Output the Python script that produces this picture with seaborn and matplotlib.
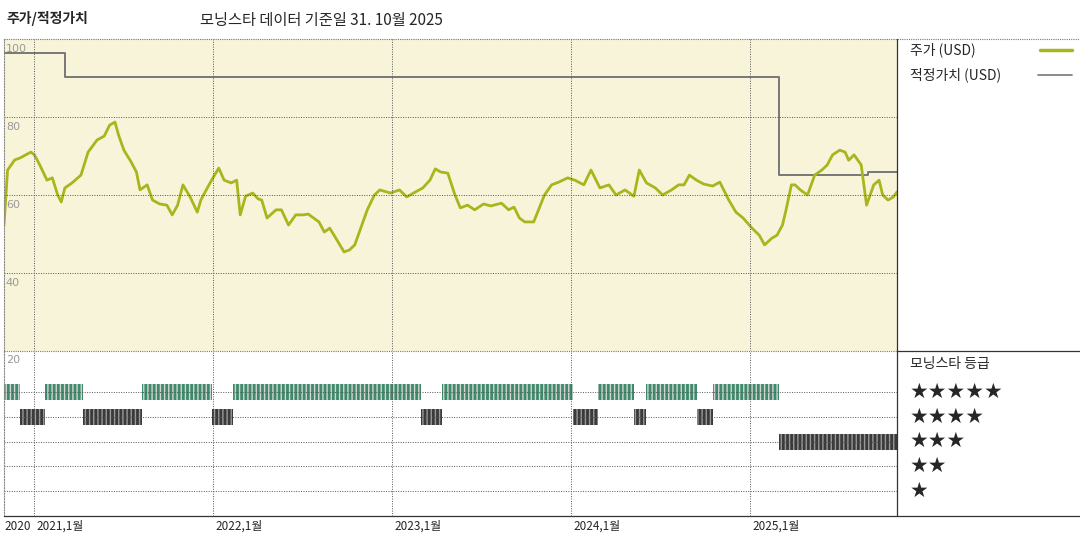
import numpy as np
import pandas as pd
import matplotlib
matplotlib.use("Agg")
import matplotlib.pyplot as plt
import seaborn as sns
from matplotlib.lines import Line2D

sns.set_style("white")
plt.rcParams['font.family'] = ['Noto Sans CJK KR', 'DejaVu Sans']

# price (decimal year, USD)
price_t = [2020.83, 2020.85, 2020.89, 2020.92, 2020.98, 2021.00, 2021.03, 2021.07, 2021.10, 2021.13, 2021.15,
           2021.17, 2021.21, 2021.26, 2021.30, 2021.35, 2021.39, 2021.42, 2021.45, 2021.47, 2021.50, 2021.54,
           2021.57, 2021.59, 2021.63, 2021.66, 2021.70, 2021.74, 2021.77, 2021.80, 2021.83, 2021.87, 2021.91,
           2021.93, 2021.96, 2021.99, 2022.03, 2022.06, 2022.10, 2022.13, 2022.15, 2022.18, 2022.22, 2022.25,
           2022.27, 2022.30, 2022.35, 2022.38, 2022.42, 2022.46, 2022.50, 2022.53, 2022.59, 2022.62, 2022.65,
           2022.69, 2022.73, 2022.76, 2022.79, 2022.83, 2022.86, 2022.90, 2022.93, 2022.99, 2023.04, 2023.08,
           2023.13, 2023.17, 2023.21, 2023.24, 2023.27, 2023.31, 2023.35, 2023.38, 2023.42, 2023.46, 2023.51,
           2023.55, 2023.61, 2023.65, 2023.68, 2023.71, 2023.74, 2023.79, 2023.85, 2023.89, 2023.93, 2023.98,
           2024.02, 2024.07, 2024.11, 2024.16, 2024.21, 2024.25, 2024.30, 2024.35, 2024.38, 2024.42, 2024.47,
           2024.51, 2024.56, 2024.60, 2024.63, 2024.66, 2024.70, 2024.74, 2024.79, 2024.83, 2024.88, 2024.92,
           2024.96, 2025.01, 2025.05, 2025.08, 2025.12, 2025.15, 2025.18, 2025.20, 2025.23, 2025.25, 2025.28,
           2025.32, 2025.36, 2025.40, 2025.43, 2025.46, 2025.50, 2025.53, 2025.55, 2025.58, 2025.62, 2025.65,
           2025.69, 2025.72, 2025.74, 2025.77, 2025.80, 2025.82]
price_v = [52.3, 66.4, 69.0, 69.5, 71.0, 70.3, 67.7, 63.8, 64.4, 60.0, 58.2,
           61.8, 63.1, 65.1, 71.0, 74.1, 75.1, 77.9, 78.7, 75.4, 71.5, 68.5,
           65.9, 61.3, 62.6, 58.7, 57.7, 57.4, 54.9, 57.4, 62.6, 59.5, 55.6,
           58.7, 61.3, 63.8, 66.9, 63.8, 63.1, 63.8, 54.9, 59.7, 60.5, 59.0,
           58.7, 54.1, 56.2, 56.2, 52.3, 54.9, 54.9, 55.1, 53.1, 50.5, 51.5,
           48.5, 45.4, 45.9, 47.2, 52.3, 56.2, 60.0, 61.3, 60.5, 61.3, 59.5,
           60.8, 61.8, 63.8, 66.7, 65.9, 65.6, 60.0, 56.7, 57.4, 56.2, 57.7,
           57.2, 57.9, 56.2, 56.9, 54.1, 53.1, 53.1, 60.0, 62.6, 63.3, 64.4,
           63.8, 62.6, 66.4, 61.8, 62.6, 60.0, 61.3, 59.7, 66.4, 63.1, 61.8,
           60.0, 61.3, 62.6, 62.6, 65.1, 63.8, 62.8, 62.3, 63.3, 58.7, 55.6,
           54.1, 51.5, 49.7, 47.2, 48.9, 49.7, 52.3, 56.2, 62.6, 62.6, 61.3,
           60.0, 65.1, 66.4, 67.7, 70.3, 71.5, 71.0, 68.9, 70.3, 67.7, 57.4,
           62.6, 63.8, 60.0, 58.7, 59.5, 60.8]

# fair value steps
fv_t = [2020.83, 2021.17, 2025.16, 2025.66, 2025.82]
fv_v = [96.4, 90.3, 65.1, 65.9, 65.9]

# star ratings (start, end, stars)
rating_start = [2020.83, 2020.92, 2021.06, 2021.27, 2021.60, 2021.99, 2022.11, 2023.16, 2023.28, 2024.01, 2024.15, 2024.35, 2024.42, 2024.70, 2024.79, 2025.16]
rating_end   = [2020.92, 2021.06, 2021.27, 2021.60, 2021.99, 2022.11, 2023.16, 2023.28, 2024.01, 2024.15, 2024.35, 2024.42, 2024.70, 2024.79, 2025.16, 2025.82]
rating_stars = [5, 4, 5, 4, 5, 4, 5, 4, 5, 4, 5, 4, 5, 4, 5, 3]

years = [2021, 2022, 2023, 2024, 2025]
year_labels = ["2021,1월", "2022,1월", "2023,1월", "2024,1월", "2025,1월"]

n = min(len(price_t), len(price_v))
price_df = pd.DataFrame({"t": price_t[:n], "v": price_v[:n]})
fv_df = pd.DataFrame({"t": fv_t, "v": fv_v})

W, H = 1080, 540
fig = plt.figure(figsize=(10.8, 5.4), dpi=100)
x0, x1 = 4, 897
ax = fig.add_axes([x0 / W, 1 - 351 / H, (x1 - x0) / W, 312 / H])
ax2 = fig.add_axes([x0 / W, 1 - 516 / H, (x1 - x0) / W, 165 / H])

xmin, xmax = 2020.83, 2025.82
grid_kw = dict(color="#555555", lw=0.7, ls=(0, (1, 1.5)))

ax.set_facecolor("#f8f4d9")
sns.lineplot(data=fv_df, x="t", y="v", drawstyle="steps-post", color="#777777", lw=1.4, ax=ax)
sns.lineplot(data=price_df, x="t", y="v", color="#a9b51c", lw=2.0, ax=ax)
ax.set_xlim(xmin, xmax)
ax.set_ylim(20, 100)
ax.set_xlabel(""); ax.set_ylabel("")
for v in [40, 60, 80]:
    ax.axhline(v, **grid_kw)
for y in years:
    ax.axvline(y, **grid_kw)
    ax2.axvline(y, **grid_kw)
for v in [100, 80, 60, 40]:
    ax.text(xmin + 0.01, v - 1.2, str(v), color="#999999", fontsize=8, va="top", ha="left",
            family="DejaVu Sans")
ax.set_xticks([]); ax.set_yticks([])
for s in ax.spines.values():
    s.set_visible(False)
ax.spines["left"].set_visible(True); ax.spines["left"].set_color("#888888")
ax.spines["left"].set_linestyle((0, (1, 1.5)))

# ratings
for r in [1, 2, 3, 4, 5]:
    ax2.axhline(r, **grid_kw)
for s_, e_, r in zip(rating_start, rating_end, rating_stars):
    col = "#3f8a6c" if r == 5 else "#3a3a3a"
    ax2.broken_barh([(s_, e_ - s_)], (r - 0.33, 0.66), facecolors=col,
                    edgecolor="#cfd8d2" if r == 5 else "#9a9a9a", hatch="||||", lw=0)
ax2.set_xlim(xmin, xmax)
ax2.set_ylim(0, 6.66)
ax2.set_xticks([]); ax2.set_yticks([])
for s in ax2.spines.values():
    s.set_visible(False)
ax2.spines["left"].set_visible(True); ax2.spines["left"].set_color("#888888")
ax2.spines["left"].set_linestyle((0, (1, 1.5)))
ax2.text(xmin + 0.01, 6.5, "20", color="#999999", fontsize=8, va="top", ha="left", family="DejaVu Sans")

# x labels
ax2.text(xmin, -0.15, "2020", fontsize=8.5, va="top", ha="left")
for y, lab in zip(years, year_labels):
    ax2.text(y + 0.01, -0.15, lab, fontsize=8.5, va="top", ha="left")

# frame lines
fig.add_artist(Line2D([x0 / W, 1], [1 - 39 / H] * 2, color="#777777", lw=0.8, ls=(0, (1, 1))))
fig.add_artist(Line2D([x1 / W] * 2, [1 - 39 / H, 1 - 516 / H], color="#333333", lw=0.9))
fig.add_artist(Line2D([x1 / W, 1], [1 - 351 / H] * 2, color="#333333", lw=0.9))
fig.add_artist(Line2D([x0 / W, 1], [1 - 516 / H] * 2, color="#333333", lw=0.9))
fig.add_artist(Line2D([x0 / W, x1 / W], [1 - 351 / H] * 2, color="#777777", lw=0.8, ls=(0, (1, 1))))

# titles
fig.text(6 / W, 1 - 18 / H, "주가/적정가치", fontsize=10, weight="bold", va="center")
fig.text(200 / W, 1 - 21 / H, "모닝스타 데이터 기준일 31. 10월 2025", fontsize=11, va="center")

# legend panel
fig.text(910 / W, 1 - 50 / H, "주가 (USD)", fontsize=10, va="center")
fig.add_artist(Line2D([1040 / W, 1072 / W], [1 - 50 / H] * 2, color="#a9b51c", lw=2.5))
fig.text(910 / W, 1 - 75 / H, "적정가치 (USD)", fontsize=10, va="center")
fig.add_artist(Line2D([1038 / W, 1072 / W], [1 - 75 / H] * 2, color="#777777", lw=1.2))
fig.text(910 / W, 1 - 364 / H, "모닝스타 등급", fontsize=10, va="center")
for i, k in enumerate([5, 4, 3, 2, 1]):
    fig.text(910 / W, 1 - (392 + i * 24.7) / H, "★" * k, fontsize=15, va="center",
             family=["DejaVu Sans"])

fig.savefig("out.png", dpi=100)
